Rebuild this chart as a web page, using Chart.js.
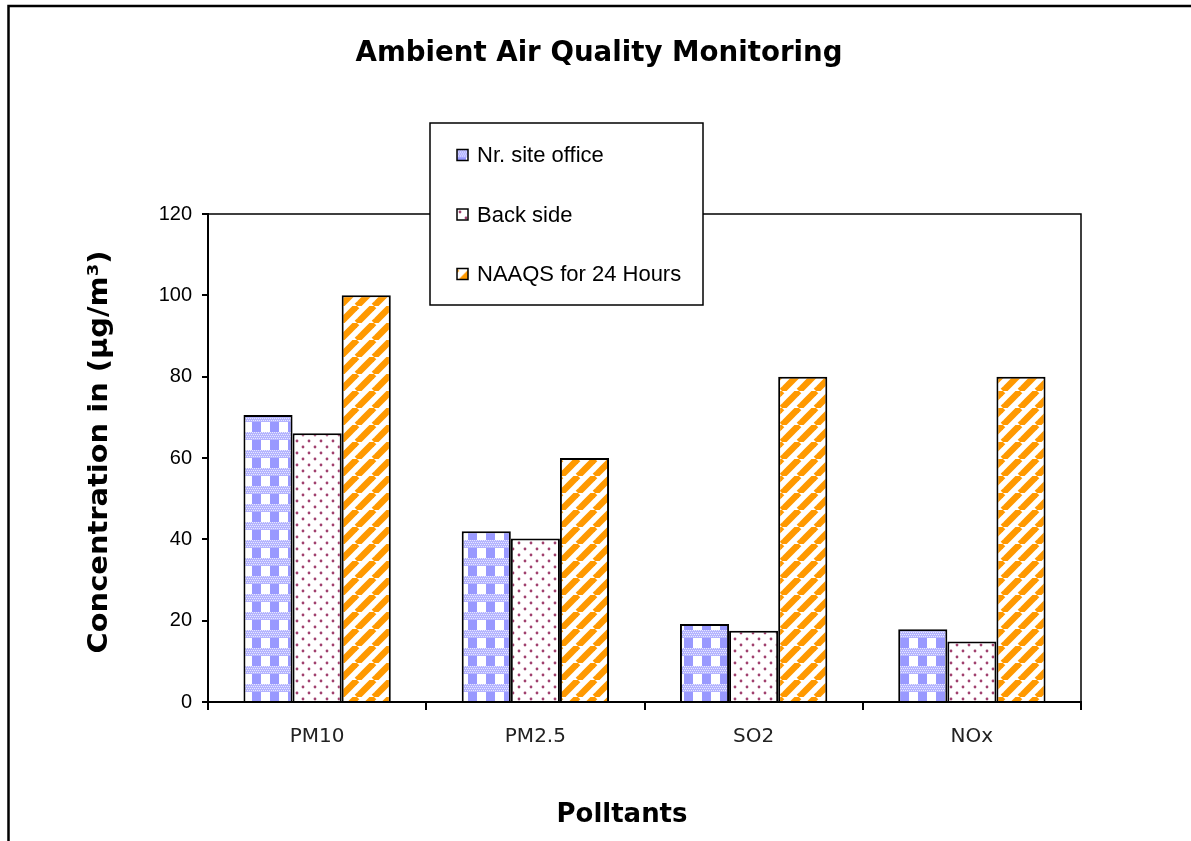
<!DOCTYPE html>
<html>
<head>
<meta charset="utf-8">
<title>Ambient Air Quality Monitoring</title>
<script src="https://cdn.jsdelivr.net/npm/chart.js@4/dist/chart.umd.min.js"></script>
<style>
  html, body { margin: 0; padding: 0; background: #fff; }
  #wrap { width: 1191px; height: 841px; position: relative; }
</style>
</head>
<body>
<div id="wrap"><canvas id="airChart" width="1191" height="841"></canvas></div>
<script>
// chart data
const pollutants = ["PM10", "PM2.5", "SO2", "NOx"];
const siteOffice = [70.6, 42.0, 19.2, 17.9];
const backSide = [66.1, 40.2, 17.5, 14.9];
const naaqs24h = [100, 60, 80, 80];
const seriesNames = ["Nr. site office", "Back side", "NAAQS for 24 Hours"];
const yMin = 0, yMax = 120, yStep = 20;

const chartTitle = "Ambient Air Quality Monitoring";
const yTitle = "Concentration in (\u00b5g/m\u00b3)";
const xTitle = "Polltants";


// PATTERN TILES

function makeTile(w, h, paint) {
    const c = document.createElement("canvas");
    c.width = w;
    c.height = h;
    const g = c.getContext("2d");
    g.fillStyle = "#fff";
    g.fillRect(0, 0, w, h);
    paint(g);
    return c;
}

const checkTile = makeTile(18, 18, g => {
    g.fillStyle = "#9999ff";
    g.fillRect(0, 0, 9, 18);
    // pale checked band across the tile
    g.fillStyle = "#b4b4ff";
    g.fillRect(0, 0, 18, 8);
    g.fillStyle = "#e8e8ff";
    for (let y = 0; y < 8; y += 2) {
        for (let x = (y / 2) % 2; x < 18; x += 2) g.fillRect(x, y, 1, 1);
    }
});

const dotTile = makeTile(12, 12, g => {
    g.fillStyle = "#a0406e";
    [[3, 3], [9, 9]].forEach(([x, y]) => {
        g.beginPath();
        g.arc(x, y, 1.4, 0, Math.PI * 2);
        g.fill();
    });
});

const stripeTile = makeTile(17, 17, g => {
    g.strokeStyle = "#ff9900";
    g.lineWidth = 6.5;
    [-17, 0, 17].forEach(o => {
        g.beginPath();
        g.moveTo(o, 17);
        g.lineTo(o + 17, 0);
        g.stroke();
    });
});

const canvas = document.getElementById("airChart");
const ctx = canvas.getContext("2d");

const fills = [
    ctx.createPattern(checkTile, "repeat"),
    ctx.createPattern(dotTile, "repeat"),
    ctx.createPattern(stripeTile, "repeat")
];


// TEXT HELPER (stretches text to a given width)

function drawText(c, text, font, cx, cy, width, rotate) {
    c.save();
    c.font = font;
    c.fillStyle = "#000";
    c.textAlign = "center";
    c.textBaseline = "alphabetic";
    const sx = width ? width / c.measureText(text).width : 1;
    c.translate(cx, cy);
    if (rotate) c.rotate(-Math.PI / 2);
    c.scale(sx, 1);
    c.fillText(text, 0, 0);
    c.restore();
}


// DECORATION PLUGIN

const decor = {
    id: "decor",

    beforeDraw(chart) {
        const c = chart.ctx;
        c.save();
        c.strokeStyle = "#000";
        c.lineWidth = 2.5;
        c.beginPath();
        c.moveTo(8.5, 841);
        c.lineTo(8.5, 6);
        c.lineTo(1191, 6);
        c.stroke();
        c.restore();
    },

    afterDraw(chart) {
        const c = chart.ctx;
        const a = chart.chartArea;

        // plot area box (top + right)
        c.save();
        c.strokeStyle = "#000";
        c.lineWidth = 1.5;
        c.beginPath();
        c.moveTo(a.left, a.top);
        c.lineTo(a.right, a.top);
        c.lineTo(a.right, a.bottom);
        c.stroke();
        c.restore();

        drawText(c, chartTitle, "bold 28px 'DejaVu Sans'", 599, 61, 487);
        drawText(c, yTitle, "bold 27px 'DejaVu Sans'", 107, 452, 403, true);
        drawText(c, xTitle, "bold 27px 'DejaVu Sans'", 622, 822, 131);

        // legend
        const box = { x: 430, y: 123, w: 273, h: 182 };
        c.save();
        c.fillStyle = "#fff";
        c.fillRect(box.x, box.y, box.w, box.h);
        c.strokeStyle = "#000";
        c.lineWidth = 1.5;
        c.strokeRect(box.x, box.y, box.w, box.h);

        chart.data.datasets.forEach((ds, i) => {
            const cy = 155 + i * 59.5;
            c.save();
            c.translate(457, cy - 5.5);
            c.fillStyle = ds.backgroundColor;
            c.fillRect(0, 0, 11, 11);
            c.strokeStyle = "#000";
            c.lineWidth = 1.5;
            c.strokeRect(0, 0, 11, 11);
            c.restore();

            c.font = "22px 'Liberation Sans'";
            c.fillStyle = "#000";
            c.textBaseline = "middle";
            c.textAlign = "left";
            c.fillText(ds.label, 477, cy + 1);
        });
        c.restore();
    }
};


// CHART

const seriesData = [siteOffice, backSide, naaqs24h];

new Chart(ctx, {

    type: "bar",

    data: {
        labels: pollutants,
        datasets: seriesData.map((vals, i) => ({
            label: seriesNames[i],
            data: vals,
            backgroundColor: fills[i],
            borderColor: "#000",
            borderWidth: 2,
            borderSkipped: "bottom",
            barPercentage: 1,
            categoryPercentage: 0.675
        }))
    },

    options: {
        responsive: false,
        animation: false,
        devicePixelRatio: 1,
        layout: { padding: { left: 0, top: 214, right: 110, bottom: 0 } },
        plugins: {
            legend: { display: false },
            title: { display: false },
            tooltip: { enabled: false }
        },
        scales: {
            x: {
                grid: {
                    offset: true,
                    drawOnChartArea: false,
                    drawTicks: true,
                    tickLength: 8,
                    color: "#000",
                    lineWidth: 2
                },
                border: { color: "#000", width: 2 },
                ticks: {
                    color: "#222",
                    padding: 15,
                    font: { family: "'DejaVu Sans'", size: 20 }
                },
                afterFit: s => { s.height = 139; }
            },
            y: {
                min: yMin,
                max: yMax,
                grid: {
                    drawOnChartArea: false,
                    drawTicks: true,
                    tickLength: 6,
                    color: "#000",
                    lineWidth: 2
                },
                border: { color: "#000", width: 2 },
                ticks: {
                    stepSize: yStep,
                    color: "#000",
                    padding: 10,
                    font: { family: "'Liberation Sans'", size: 20 }
                },
                afterFit: s => { s.width = 208; }
            }
        }
    },

    plugins: [decor]

});
</script>
</body>
</html>
